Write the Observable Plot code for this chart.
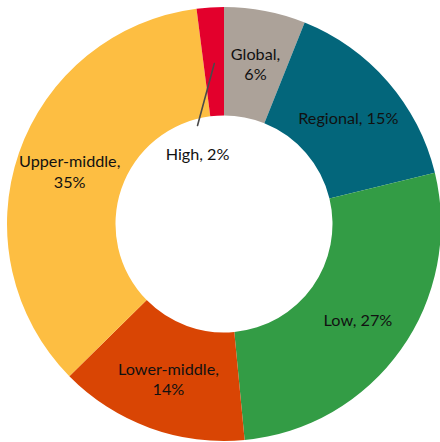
<!DOCTYPE html>
<html>
<head>
<meta charset="utf-8">
<script src="https://cdn.jsdelivr.net/npm/d3@7"></script>
<script src="https://cdn.jsdelivr.net/npm/@observablehq/plot@0.6"></script>
<style>
  html, body { margin: 0; padding: 0; background: #fff; }
  #chart svg { display: block; }
</style>
</head>
<body>
<div id="chart"></div>
<script>
// Data (clockwise from 12 o'clock)
const categories = ["Global", "Regional", "Low", "Lower-middle", "Upper-middle", "High"];
const shares = [6, 15, 27, 14, 35, 2];
const twoLineLabel = [true, false, false, true, true, false];
const colors = ["#ACA299", "#03667B", "#339C45", "#D94504", "#FDBE42", "#E3002C"];

const W = 440, H = 442;
const innerFrac = 0.5;
const total = d3.sum(shares);

// angles (clockwise from top, radians)
let acc = 0;
const slices = categories.map((c, i) => {
  const a0 = acc / total * 2 * Math.PI;
  acc += shares[i];
  const a1 = acc / total * 2 * Math.PI;
  return {category: c, value: shares[i], a0, a1, mid: (a0 + a1) / 2, color: colors[i],
          label: `${c},${twoLineLabel[i] ? "\n" : " "}${shares[i]}%`};
});

const labelR = 0.755;
const big = slices.filter(d => d.value >= 3);
const small = slices.filter(d => d.value < 3);

const bigLabels = big.map(d => ({label: d.label, x: labelR * Math.sin(d.mid), y: labelR * Math.cos(d.mid)}));
const leaders = small.flatMap(d => {
  const s = {x: 0.743 * Math.sin(d.mid), y: 0.743 * Math.cos(d.mid), k: d.category};
  const ea = d.mid - 11.6 * Math.PI / 180;
  const e = {x: 0.473 * Math.sin(ea), y: 0.473 * Math.cos(ea), k: d.category};
  return [s, e];
});
const smallLabels = small.map(d => {
  const ea = d.mid - 11.6 * Math.PI / 180;
  return {label: d.label, x: 0.473 * Math.sin(ea), y: 0.473 * Math.cos(ea) - 0.135};
});

const arcsMark = (index, scales) => {
  const x = scales.x, y = scales.y;
  const cx = x(0), cy = y(0), r = Math.abs(x(1) - x(0));
  const arc = d3.arc().innerRadius(r * innerFrac).outerRadius(r);
  const g = d3.create("svg:g").attr("transform", `translate(${cx},${cy})`);
  g.selectAll("path").data(slices).join("path")
    .attr("d", d => arc({startAngle: d.a0, endAngle: d.a1}))
    .attr("fill", d => d.color);
  return g.node();
};

const chart = Plot.plot({
  width: W,
  height: H,
  margin: 0,
  x: {domain: [-224 / 217, 216 / 217], range: [0, W], axis: null},
  y: {domain: [-218 / 217, 224 / 217], range: [H, 0], axis: null},
  style: {fontFamily: "Lato, 'Open Sans', sans-serif", background: "#fff"},
  marks: [
    arcsMark,
    Plot.line(leaders, {x: "x", y: "y", z: "k", stroke: "#4a4a4a", strokeWidth: 1.6}),
    Plot.text(bigLabels, {x: "x", y: "y", text: "label", fontSize: 16.2, fill: "#111", lineHeight: 1.25}),
    Plot.text(smallLabels, {x: "x", y: "y", text: "label", fontSize: 16.2, fill: "#111"})
  ]
});
document.getElementById("chart").append(chart);
</script>
</body>
</html>
